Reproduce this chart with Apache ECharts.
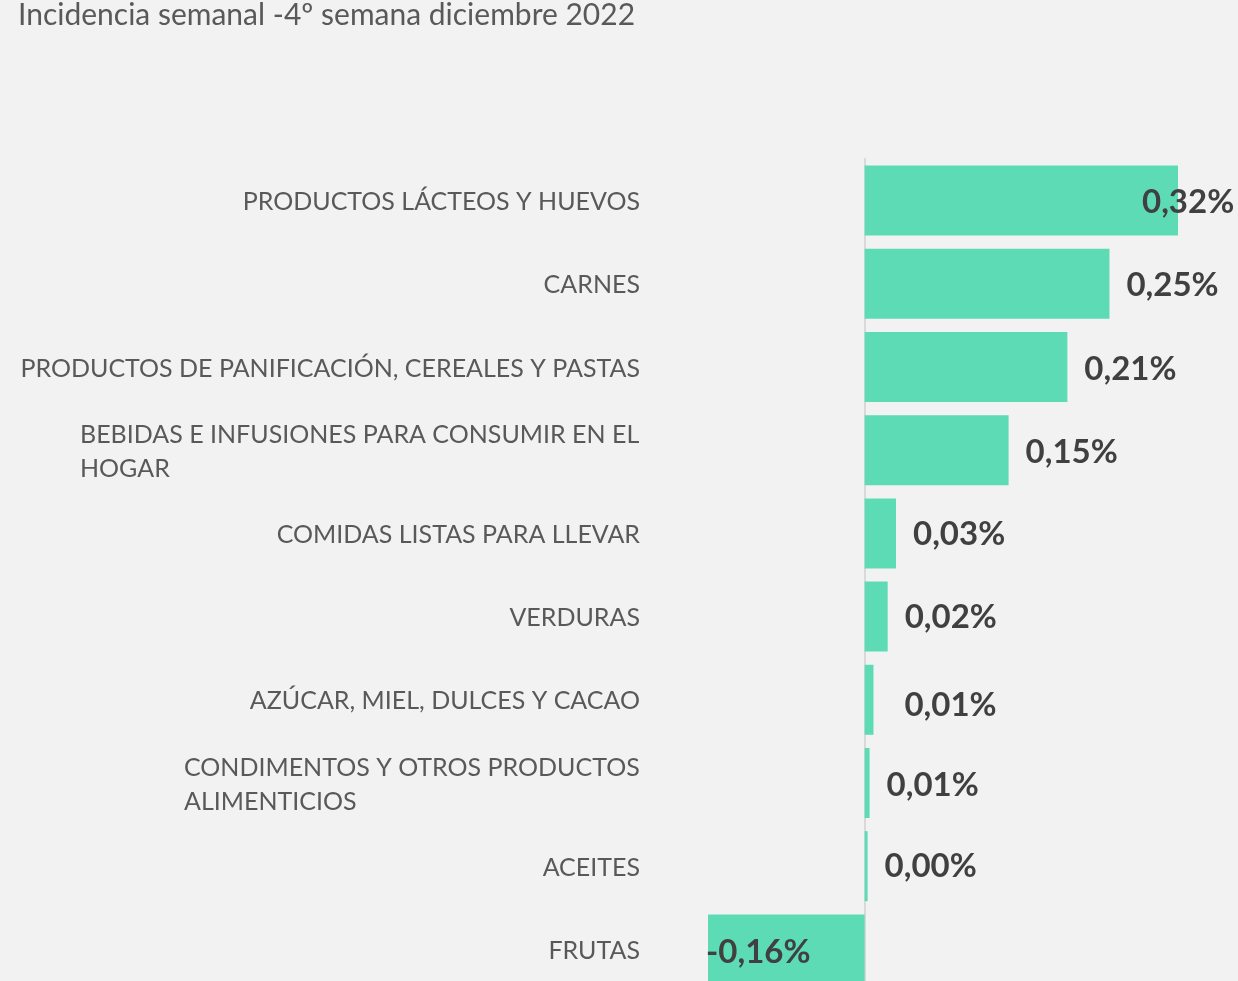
<!DOCTYPE html>
<html>
<head>
<meta charset="utf-8">
<script src="https://cdn.jsdelivr.net/npm/echarts@6/dist/echarts.min.js"></script>
<style>
  html, body { margin: 0; padding: 0; background: #f2f2f2; }
  #chart { width: 1238px; height: 981px; }
</style>
</head>
<body>
<div id="chart"></div>
<script>
var categories = [
    'PRODUCTOS LÁCTEOS Y HUEVOS',
    'CARNES',
    'PRODUCTOS DE PANIFICACIÓN, CEREALES Y PASTAS',
    'BEBIDAS E INFUSIONES PARA CONSUMIR EN EL\nHOGAR',
    'COMIDAS LISTAS PARA LLEVAR',
    'VERDURAS',
    'AZÚCAR, MIEL, DULCES Y CACAO',
    'CONDIMENTOS Y OTROS PRODUCTOS\nALIMENTICIOS',
    'ACEITES',
    'FRUTAS'
];
var values = [0.32, 0.25, 0.207, 0.147, 0.032, 0.0235, 0.009, 0.005, 0.003, -0.16];
var valueLabels = ['0,32%', '0,25%', '0,21%', '0,15%', '0,03%', '0,02%', '0,01%', '0,01%', '0,00%', '-0,16%'];

// label nudges (x, y) to follow the original placement
var labelOffsets = [[-53, 2], [0, 2], [0, 2], [0, 2], [0, 1], [0, 1], [14, 6], [0, 2], [0, 0], [-2, 3]];

var FONT = 'Lato';
var catFont = 25;

function textWidth(str, size) {
    var c = document.createElement('canvas').getContext('2d');
    c.font = size + 'px ' + FONT;
    return c.measureText(str).width;
}

var chart = echarts.init(document.getElementById('chart'));

var seriesData = [];
for (var i = 0; i < values.length; i++) {
    var item = {
        value: values[i],
        label: { offset: labelOffsets[i] }
    };
    if (values[i] < 0) {
        item.label.position = 'insideLeft';
        item.label.distance = 0;
    }
    seriesData.push(item);
}

// wrapped labels: lines left aligned inside a block that ends at the axis margin
var richStyles = {};
categories.forEach(function (c) {
    var lines = c.split('\n');
    if (lines.length > 1) {
        var w = 0;
        lines.forEach(function (l) { w = Math.max(w, textWidth(l, catFont)); });
        richStyles['w' + Math.ceil(w)] = {
            width: Math.ceil(w), align: 'left',
            fontFamily: FONT, fontSize: catFont, color: '#595959', lineHeight: 34
        };
    }
});

var option = {
    backgroundColor: '#f2f2f2',
    animation: false,
    title: {
        text: 'Incidencia semanal -4º semana diciembre 2022',
        left: 18,
        top: 0,
        padding: 0,
        textStyle: {
            fontFamily: FONT,
            fontSize: 30,
            fontWeight: 'normal',
            color: '#595959',
            lineHeight: 30
        }
    },
    grid: {
        left: 708,
        right: 60,
        top: 159,
        height: 832,
        containLabel: false,
        outerBoundsMode: 'none'
    },
    xAxis: {
        type: 'value',
        min: -0.16,
        max: 0.32,
        show: false
    },
    yAxis: {
        type: 'category',
        inverse: true,
        data: categories,
        axisTick: { show: false },
        axisLine: {
            show: true,
            onZero: true,
            lineStyle: { color: '#d9d9d9', width: 2 }
        },
        axisLabel: {
            margin: 68,
            fontFamily: FONT,
            fontSize: catFont,
            color: '#595959',
            lineHeight: 34,
            padding: [3, 0, 0, 0],
            formatter: function (v) {
                var lines = v.split('\n');
                if (lines.length === 1) return v;
                var w = 0;
                lines.forEach(function (l) { w = Math.max(w, textWidth(l, catFont)); });
                return lines.map(function (l) { return '{w' + Math.ceil(w) + '|' + l + '}'; }).join('\n');
            },
            rich: richStyles
        }
    },
    series: [{
        type: 'bar',
        data: seriesData,
        barWidth: 70,
        itemStyle: { color: '#5cdbb5' },
        label: {
            show: true,
            position: 'right',
            distance: 17,
            fontFamily: FONT,
            fontSize: 33,
            fontWeight: 'bold',
            color: '#404040',
            formatter: function (p) { return valueLabels[p.dataIndex]; }
        }
    }]
};

chart.setOption(option);
</script>
</body>
</html>
